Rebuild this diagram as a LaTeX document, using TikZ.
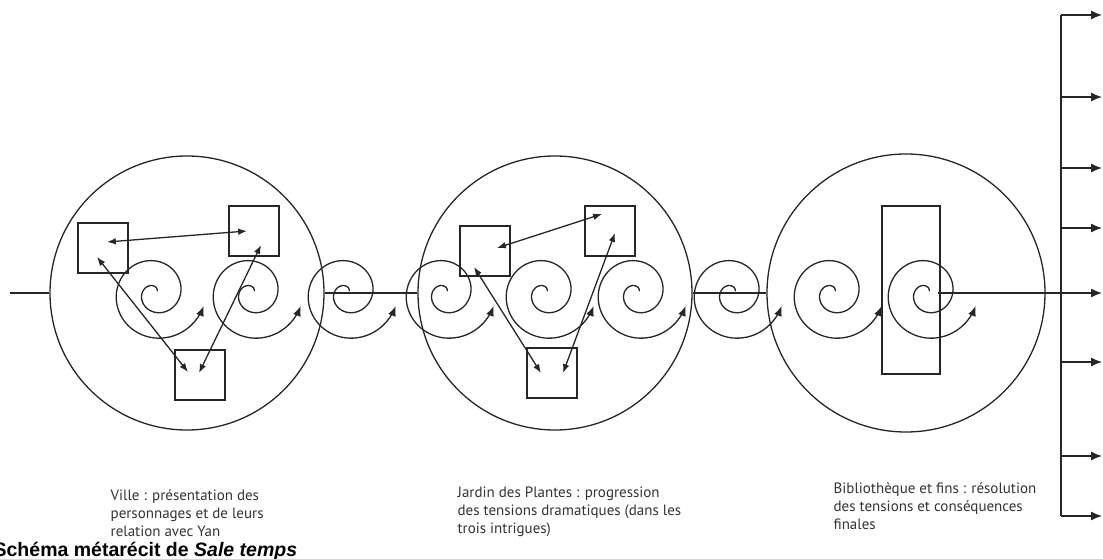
\documentclass[tikz,border=0pt]{standalone}
\usepackage{fontspec}
\setmainfont{PT Sans}
\setsansfont{Liberation Sans}
\usetikzlibrary{arrows.meta}

\tikzset{
  ring/.style={draw, circle, minimum size=274pt, inner sep=0pt},
  perso/.style={draw, minimum size=50pt, inner sep=0pt},
  lien/.style={Latex-Latex},
  legende/.style={align=left, anchor=base west, inner sep=0pt, text=black!80,
    font=\fontsize{15}{18}\selectfont},
}

\begin{document}
\begin{tikzpicture}[x=1pt, y=-1pt, line width=1.3pt, black!85,
    >={Latex[length=10pt,width=8pt]}]
\useasboundingbox (0,0) rectangle (1103,559);

% les trois lieux
\node[ring] (ville) at (187,293) {};
\node[ring] (jardin) at (555,293) {};
\node[ring, minimum size=278pt] (biblio) at (906,293) {};

% fil du recit
\coordinate (debut) at (10,293);
\coordinate (fin) at (1072,293);
\draw (debut) -- (ville.west);
\draw (ville.east) -- (jardin.west);
\draw (jardin.east) -- (biblio.west);

% spirales
\foreach \x [count=\i] in {155,252,347,445,545,637,733,833,927} {
  \coordinate (s\i) at (\x,293);
  \draw[->, domain=40:705, samples=140, smooth, variable=\t]
    plot ({\x + \t/14*cos(\t)}, {293 - \t/14*sin(\t)});
}
\draw ([xshift=11pt]s9) -- (fin);

% Ville : personnages
\node[perso] (va) at (103,248) {};
\node[perso] (vb) at (254,231) {};
\node[perso] (vc) at (200,375) {};
\draw[lien] ([shift={(4,-6)}]va.center) -- ([shift={(-7,0)}]vb.center);
\draw[lien] ([shift={(-6,9)}]va.center) -- ([shift={(-12,-3)}]vc.center);
\draw[lien] ([shift={(-1,-2)}]vc.center) -- ([shift={(7,14)}]vb.center);

% Jardin des Plantes : intrigues
\node[perso] (ja) at (485,251) {};
\node[perso] (jb) at (610,231) {};
\node[perso] (jc) at (552,373) {};
\draw[lien] ([shift={(12,-3)}]ja.center) -- ([shift={(-8,-17)}]jb.center);
\draw[lien] ([shift={(-11,16)}]ja.center) -- ([shift={(-11,0)}]jc.center);
\draw[lien] ([shift={(11,0)}]jc.center) -- ([shift={(5,2)}]jb.center);

% Bibliotheque
\node[draw, minimum width=58pt, minimum height=168pt, inner sep=0pt] (fins) at (911,290) {};

% fins multiples
\coordinate (haut) at (1061,15);
\coordinate (bas) at (1061,516);
\draw (haut) -- (bas);
\foreach \y [count=\i] in {15,97,168,228,293,362,456,516} {
  \coordinate (f\i) at (1102,\y);
  \draw[-{Latex[length=11pt,width=9pt]}] (1061,\y) -- (f\i);
}

% legendes (base = derniere ligne)
\node[legende] (lville) at (110,536) {Ville : présentation des\\personnages et de leurs\\relation avec Yan};
\node[legende] (ljardin) at (457,533) {Jardin des Plantes : progression\\des tensions dramatiques (dans les\\trois intrigues)};
\node[legende] (lbiblio) at (833,529) {Bibliothèque et fins : résolution\\des tensions et conséquences\\finales};
\node[anchor=base west, inner sep=0pt, text=black,
  font=\sffamily\bfseries\fontsize{19.5}{22}\selectfont] (titre) at (-7,556)
  {Schéma métarécit de \textit{Sale temps}};
\end{tikzpicture}
\end{document}
